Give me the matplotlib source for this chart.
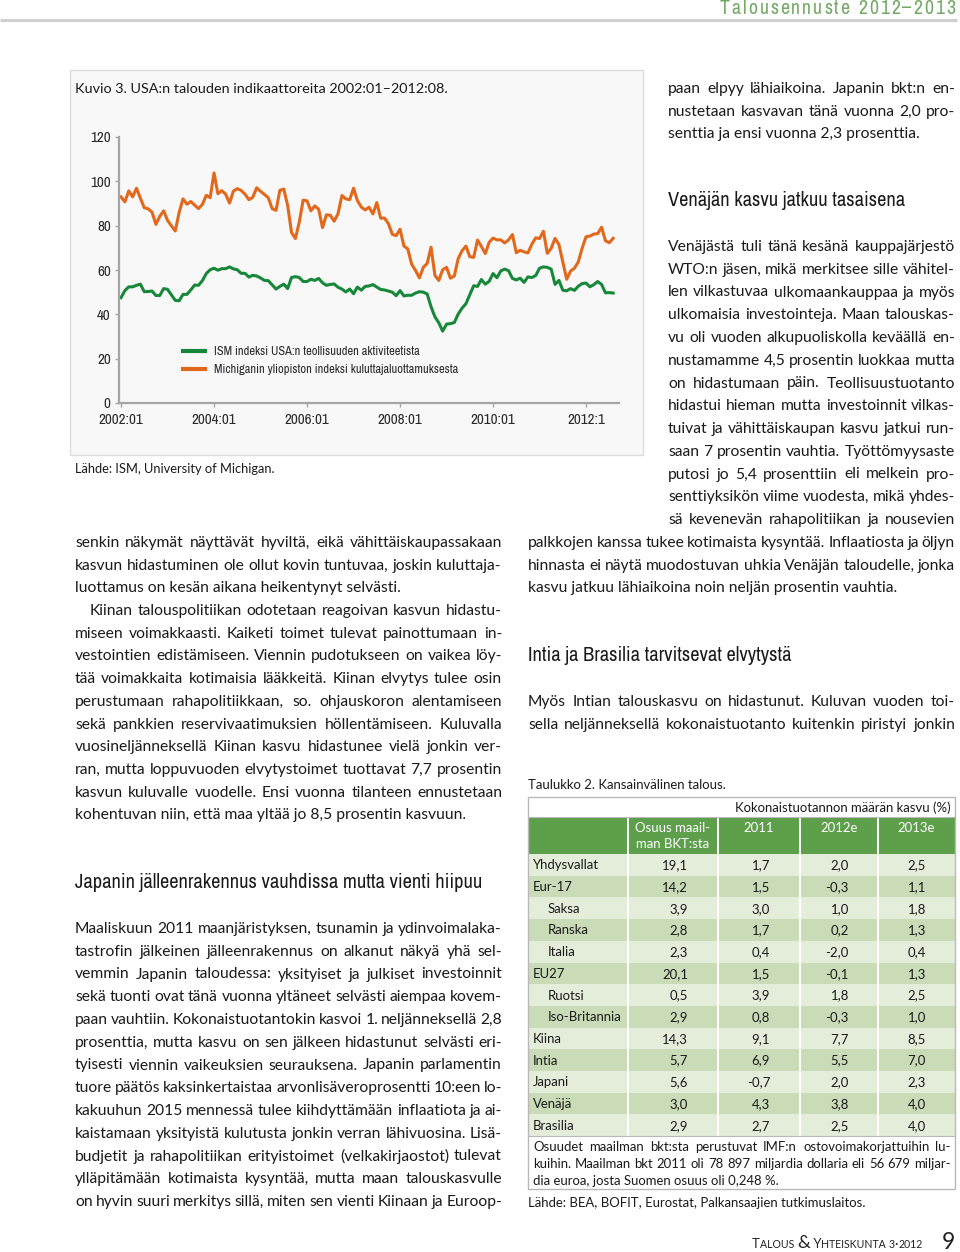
import matplotlib
matplotlib.use('Agg')
import matplotlib.pyplot as plt
from matplotlib.patches import Rectangle
from matplotlib import font_manager as fm
from matplotlib.font_manager import FontProperties
import numpy as np

# ---------------- data ----------------
# Monthly 2002:01 ... 2012:08 (128 months)
ism = [47.5, 50.7, 52.4, 52.4, 53.1, 53.6, 50.2, 50.3, 50.5, 48.5, 48.5, 51.6,
       51.3, 48.8, 46.3, 46.1, 49.0, 49.0, 51.0, 53.2, 53.1, 55.2, 58.4, 60.1,
       60.8, 59.9, 60.6, 60.6, 61.4, 60.5, 60.1, 58.5, 58.5, 56.8, 57.6, 57.3,
       56.4, 55.3, 55.2, 53.3, 51.4, 52.6, 53.6, 51.6, 56.6, 57.0, 56.6, 54.8,
       54.8, 55.8, 55.3, 56.2, 54.2, 53.1, 53.5, 53.7, 52.2, 51.4, 50.1, 51.4,
       49.3, 52.3, 50.9, 52.6, 52.8, 53.4, 52.3, 51.2, 51.0, 50.5, 50.0, 48.4,
       50.7, 48.3, 48.6, 48.6, 49.6, 50.2, 50.0, 49.2, 43.4, 38.9, 36.2, 32.4,
       35.6, 35.8, 36.3, 40.1, 42.8, 44.8, 48.9, 52.9, 52.6, 55.7, 53.6, 54.9,
       58.4, 56.5, 59.6, 60.4, 59.7, 56.2, 55.5, 56.3, 54.4, 56.9, 56.6, 57.5,
       60.8, 61.4, 61.2, 60.4, 53.5, 55.3, 50.9, 50.6, 51.6, 50.8, 52.7, 53.9,
       54.1, 52.4, 53.4, 54.8, 53.5, 49.7, 49.8, 49.6]
michigan = [93.0, 90.7, 95.7, 93.0, 96.9, 92.4, 88.1, 87.6, 86.1, 80.6, 84.2, 86.7,
            82.4, 79.9, 77.6, 86.0, 92.1, 89.7, 90.9, 89.3, 87.7, 89.6, 93.7, 92.6,
            103.8, 94.4, 95.8, 94.2, 90.2, 95.6, 96.7, 95.9, 94.2, 91.7, 92.8, 97.1,
            95.5, 94.1, 92.6, 87.7, 86.9, 96.0, 96.5, 89.1, 76.9, 74.2, 81.6, 91.5,
            91.2, 86.7, 88.9, 87.4, 79.1, 84.9, 84.7, 82.0, 85.4, 93.6, 92.1, 91.7,
            96.9, 91.3, 88.4, 87.1, 88.3, 85.3, 90.4, 83.4, 83.4, 80.9, 76.1, 75.5,
            78.4, 70.8, 69.5, 62.6, 59.8, 56.4, 61.2, 63.0, 70.3, 57.6, 55.3, 60.1,
            61.2, 56.3, 57.3, 65.1, 68.7, 70.8, 66.0, 65.7, 73.5, 70.6, 67.4, 72.5,
            74.4, 73.6, 73.6, 72.2, 73.6, 76.0, 67.8, 68.9, 68.2, 67.7, 71.6, 74.5,
            74.2, 77.5, 67.5, 69.8, 74.3, 71.5, 63.7, 55.8, 59.5, 60.8, 63.7, 69.9,
            75.0, 75.3, 76.2, 76.4, 79.3, 73.2, 72.3, 74.3]
x_tick_labels = ['2002:01', '2004:01', '2006:01', '2008:01', '2010:01', '2012:1']
y_ticks = [0, 20, 40, 60, 80, 100, 120]
series_labels = ['ISM indeksi USA:n teollisuuden aktiviteetista',
                 'Michiganin yliopiston indeksi kuluttajaluottamuksesta']

countries = ['Yhdysvallat', 'Eur-17', 'Saksa', 'Ranska', 'Italia', 'EU27', 'Ruotsi',
             'Iso-Britannia', 'Kiina', 'Intia', 'Japani', 'Venäjä', 'Brasilia']
sub_country = [False, False, True, True, True, False, True, True, False, False, False, False, False]
share = [19.1, 14.2, 3.9, 2.8, 2.3, 20.1, 0.5, 2.9, 14.3, 5.7, 5.6, 3.0, 2.9]
g2011 = [1.7, 1.5, 3.0, 1.7, 0.4, 1.5, 3.9, 0.8, 9.1, 6.9, -0.7, 4.3, 2.7]
g2012 = [2.0, -0.3, 1.0, 0.2, -2.0, -0.1, 1.8, -0.3, 7.7, 5.5, 2.0, 3.8, 2.5]
g2013 = [2.5, 1.1, 1.8, 1.3, 0.4, 1.3, 2.5, 1.0, 8.5, 7.0, 2.3, 4.0, 4.0]
table_cols = ['Osuus maail-\nman BKT:sta', '2011', '2012e', '2013e']

# ---------------- texts ----------------
p_left1 = ["senkin näkymät näyttävät hyviltä, eikä vähittäiskaupassakaan",
           "kasvun hidastuminen ole ollut kovin tuntuvaa, joskin kuluttaja-",
           "luottamus on kesän aikana heikentynyt selvästi."]
p_left2 = ["Kiinan talouspolitiikan odotetaan reagoivan kasvun hidastu-",
           "miseen voimakkaasti. Kaiketi toimet tulevat painottumaan in-",
           "vestointien edistämiseen. Viennin pudotukseen on vaikea löy-",
           "tää voimakkaita kotimaisia lääkkeitä. Kiinan elvytys tulee osin",
           "perustumaan rahapolitiikkaan, so. ohjauskoron alentamiseen",
           "sekä pankkien reservivaatimuksien höllentämiseen. Kuluvalla",
           "vuosineljänneksellä Kiinan kasvu hidastunee vielä jonkin ver-",
           "ran, mutta loppuvuoden elvytystoimet tuottavat 7,7 prosentin",
           "kasvun kuluvalle vuodelle. Ensi vuonna tilanteen ennustetaan",
           "kohentuvan niin, että maa yltää jo 8,5 prosentin kasvuun."]
p_japan = ["Maaliskuun 2011 maanjäristyksen, tsunamin ja ydinvoimalaka-",
           "tastrofin jälkeinen jälleenrakennus on alkanut näkyä yhä sel-",
           "vemmin Japanin taloudessa: yksityiset ja julkiset investoinnit",
           "sekä tuonti ovat tänä vuonna yltäneet selvästi aiempaa kovem-",
           "paan vauhtiin. Kokonaistuotantokin kasvoi 1. neljänneksellä 2,8",
           "prosenttia, mutta kasvu on sen jälkeen hidastunut selvästi eri-",
           "tyisesti viennin vaikeuksien seurauksena. Japanin parlamentin",
           "tuore päätös kaksinkertaistaa arvonlisäveroprosentti 10:een lo-",
           "kakuuhun 2015 mennessä tulee kiihdyttämään inflaatiota ja ai-",
           "kaistamaan yksityistä kulutusta jonkin verran lähivuosina. Lisä-",
           "budjetit ja rahapolitiikan erityistoimet (velkakirjaostot) tulevat",
           "ylläpitämään kotimaista kysyntää, mutta maan talouskasvulle",
           "on hyvin suuri merkitys sillä, miten sen vienti Kiinaan ja Euroop-"]
p_right0 = ["paan elpyy lähiaikoina. Japanin bkt:n en-",
            "nustetaan kasvavan tänä vuonna 2,0 pro-",
            "senttia ja ensi vuonna 2,3 prosenttia."]
p_russia_narrow = ["Venäjästä tuli tänä kesänä kauppajärjestö",
                   "WTO:n jäsen, mikä merkitsee sille vähitel-",
                   "len vilkastuvaa ulkomaankauppaa ja myös",
                   "ulkomaisia investointeja. Maan talouskas-",
                   "vu oli vuoden alkupuoliskolla keväällä en-",
                   "nustamamme 4,5 prosentin luokkaa mutta",
                   "on hidastumaan päin. Teollisuustuotanto",
                   "hidastui hieman mutta investoinnit vilkas-",
                   "tuivat ja vähittäiskaupan kasvu jatkui run-",
                   "saan 7 prosentin vauhtia. Työttömyysaste",
                   "putosi jo 5,4 prosenttiin eli melkein pro-",
                   "senttiyksikön viime vuodesta, mikä yhdes-",
                   "sä kevenevän rahapolitiikan ja nousevien"]
p_russia_wide = ["palkkojen kanssa tukee kotimaista kysyntää. Inflaatiosta ja öljyn",
                 "hinnasta ei näytä muodostuvan uhkia Venäjän taloudelle, jonka",
                 "kasvu jatkuu lähiaikoina noin neljän prosentin vauhtia."]
p_india = ["Myös Intian talouskasvu on hidastunut. Kuluvan vuoden toi-",
           "sella neljänneksellä kokonaistuotanto kuitenkin piristyi jonkin"]
p_note = ["Osuudet maailman bkt:sta perustuvat IMF:n ostovoimakorjattuihin lu-",
          "kuihin. Maailman bkt 2011 oli 78 897 miljardia dollaria eli 56 679 miljar-",
          "dia euroa, josta Suomen osuus oli 0,248 %."]
headings = {'venaja': 'Venäjän kasvu jatkuu tasaisena',
            'intia': 'Intia ja Brasilia tarvitsevat elvytystä',
            'japani': 'Japanin jälleenrakennus vauhdissa mutta vienti hiipuu'}

# ---------------- fonts ----------------
def find_narrow():
    prefs = []
    for f in fm.fontManager.ttflist:
        if f.style != 'normal':
            continue
        if f.weight not in (400, 'normal', 'regular', 'book', 'Regular'):
            continue
        fn = f.fname.lower()
        if 'narrow' in f.name.lower() or 'narrow' in fn:
            prefs.append((0, f.fname))
        elif 'condensed' in str(f.stretch) or 'condensed' in fn:
            if 'bold' in fn or 'oblique' in fn or 'italic' in fn:
                continue
            prefs.append((1, f.fname))
    prefs.sort()
    return prefs[0][1] if prefs else None

NARROW_PATH = find_narrow()
BODY = ['Lato', 'DejaVu Sans']

def FP(kind, size):
    if kind == 'narrow' and NARROW_PATH:
        return FontProperties(fname=NARROW_PATH, size=size)
    return FontProperties(family=BODY, size=size)

# ---------------- figure ----------------
W, H = 960, 1252
fig = plt.figure(figsize=(W / 100, H / 100), dpi=100)
bg = fig.add_axes([0, 0, 1, 1], zorder=0)
bg.set_xlim(0, W)
bg.set_ylim(H, 0)
bg.axis('off')
renderer = fig.canvas.get_renderer()
TXT = '#1a1a1a'

_cache = {}
def measure(s, kind, size):
    key = (s, kind, round(size, 4))
    if key not in _cache:
        t = bg.text(0, 0, s, fontproperties=FP(kind, size))
        _cache[key] = t.get_window_extent(renderer).width
        t.remove()
    return _cache[key]

def fit_size(s, kind, target, base=10.0):
    return base * target / measure(s, kind, base)

def T(x, y, s, kind, size, color=TXT, ha='left'):
    bg.text(x, y, s, fontproperties=FP(kind, size), color=color, va='baseline', ha=ha)

def draw_line(s, x0, x1, y, size, justify=True, kind='body', color=TXT):
    words = s.split(' ')
    if not justify or len(words) == 1:
        T(x0, y, s, kind, size, color)
        return
    sp = measure('a a', kind, size) - measure('aa', kind, size)
    ws = [measure(w, kind, size) for w in words]
    need = sum(ws) + 0.55 * sp * (len(words) - 1)
    if need > x1 - x0:
        size = size * (x1 - x0) / need
        ws = [measure(w, kind, size) for w in words]
    gap = (x1 - x0 - sum(ws)) / (len(words) - 1)
    x = x0
    for w, wd in zip(words, ws):
        T(x, y, w, kind, size, color)
        x += wd + gap

def paragraph(lines, x0, x1, y0, size, pitch=22.72, last_justified=False, indent=0):
    for i, ln in enumerate(lines):
        just = (i < len(lines) - 1) or last_justified
        xs = x0 + (indent if i == 0 else 0)
        draw_line(ln, xs, x1, y0 + i * pitch + 5, size, just)

# body size matched to an unjustified reference line (391 px wide)
BS = fit_size(p_left2[-1], 'body', 391)
TS = fit_size('Lähde: BEA, BOFIT, Eurostat, Palkansaajien tutkimuslaitos.', 'body', 335)
HS = fit_size(headings['japani'], 'narrow', 408)

# ---- header ----
def tracked(s, x_right, y, size, color, kind, total):
    ws = [measure(c, kind, size) for c in s]
    track = (total - sum(ws)) / (len(s) - 1)
    x = x_right - total
    for c, wd in zip(s, ws):
        T(x, y, c, kind, size, color)
        x += wd + track

hdr_size = fit_size('Talousennuste 2012–2013', 'narrow', 192)
tracked('Talousennuste 2012–2013', 955, 13.5, hdr_size, '#74a865', 'narrow', 235)
bg.plot([0, 957], [20, 20], color='#cfcfcf', lw=2.2, solid_capstyle='butt')

# ---- chart box ----
bg.add_patch(Rectangle((70, 70), 573, 385, facecolor='#f8f8f8', edgecolor='#dcdcdc', lw=1))
T(75, 93, 'Kuvio 3. USA:n talouden indikaattoreita 2002:01–2012:08.', 'body',
  fit_size('Kuvio 3. USA:n talouden indikaattoreita 2002:01–2012:08.', 'body', 373))
T(75, 473, 'Lähde: ISM, University of Michigan.', 'body',
  fit_size('Lähde: ISM, University of Michigan.', 'body', 201))

ax = fig.add_axes([119 / W, 1 - 403 / H, 500 / W, 266 / H], zorder=1)
ax.patch.set_alpha(0)
months = np.arange(len(ism))
ax.plot(months, ism, color='#17883a', lw=2.2, label=series_labels[0], solid_joinstyle='round')
ax.plot(months, michigan, color='#e2691c', lw=2.2, label=series_labels[1], solid_joinstyle='round')
ax.set_xlim(-0.52, 128.5)
ax.set_ylim(0, 120)
ax.set_xticks([0, 24, 48, 72, 96, 120])
ax.set_xticklabels(x_tick_labels)
ax.set_yticks(y_ticks)
for s in ['top', 'right']:
    ax.spines[s].set_visible(False)
for s in ['left', 'bottom']:
    ax.spines[s].set_color('#a5a5a5')
    ax.spines[s].set_linewidth(1.6)
ax.tick_params(axis='both', direction='out', length=3, width=1, color='#a5a5a5',
               labelcolor='#2a2a2a')
ax.tick_params(axis='y', pad=3)
ax.tick_params(axis='x', pad=4.5)
tick_size = fit_size('2002:01', 'narrow', 41) * 1.08
for lab in ax.get_xticklabels() + ax.get_yticklabels():
    lab.set_fontproperties(FP('narrow', tick_size))
leg_size = fit_size(series_labels[0], 'narrow', 196) * 1.05
leg = ax.legend(loc='center left', bbox_to_anchor=(183 / W, 1 - 360.5 / H),
                bbox_transform=fig.transFigure, frameon=False,
                prop=FP('narrow', leg_size),
                handlelength=22 / (leg_size * 100 / 72), handletextpad=9 / (leg_size * 100 / 72),
                labelspacing=0.55, borderpad=0, borderaxespad=0)
for t in leg.get_texts():
    t.set_color('#2a2a2a')
for l in leg.get_lines():
    l.set_linewidth(3)

# ---- left column text ----
paragraph(p_left1, 75, 502, 542, BS)
paragraph(p_left2, 75, 502, 610, BS, indent=15)
T(75, 888, headings['japani'], 'narrow', HS)
paragraph(p_japan, 75, 502, 928, BS, pitch=22.75, last_justified=True)

# ---- right column text ----
paragraph(p_right0, 668, 955, 88, BS)
T(668, 206, headings['venaja'], 'narrow', HS)
paragraph(p_russia_narrow, 668, 955, 246, BS, pitch=22.75, last_justified=True)
paragraph(p_russia_wide, 528, 955, 542, BS)
T(528, 661, headings['intia'], 'narrow', HS)
paragraph(p_india, 528, 955, 701, BS, last_justified=True)

# ---- table ----
T(528, 789, 'Taulukko 2. Kansainvälinen talous.', 'body', TS)
tx0, tx1 = 528, 955
top, hdr0, hdr1 = 797, 817, 854
rowh = 21.7
nrows = len(countries)
rows_end = hdr1 + nrows * rowh
tbot = 1189
seps = [628, 718, 800, 878]
bg.add_patch(Rectangle((tx0, hdr0), tx1 - tx0, hdr1 - hdr0, facecolor='#5e9f4c', edgecolor='none'))
for i in range(nrows):
    c = '#e4ecda' if i % 2 == 0 else '#c9dbb7'
    bg.add_patch(Rectangle((tx0, hdr1 + i * rowh), tx1 - tx0, rowh, facecolor=c, edgecolor='none'))
for sx in seps:
    bg.plot([sx, sx], [hdr0, rows_end], color='white', lw=1.4)
bg.add_patch(Rectangle((tx0, top), tx1 - tx0, tbot - top, facecolor='none', edgecolor='#b9b9b9', lw=1))
bg.plot([tx0, tx1], [hdr0, hdr0], color='#b9b9b9', lw=0.8)
bg.plot([tx0, tx1], [rows_end, rows_end], color='#b9b9b9', lw=0.8)
T(951, 811.5, 'Kokonaistuotannon määrän kasvu (%)', 'body', TS, ha='right')
col_centers = [(seps[0] + seps[1]) / 2, (seps[1] + seps[2]) / 2,
               (seps[2] + seps[3]) / 2, (seps[3] + tx1) / 2]
hdr_lines = table_cols[0].split('\n')
T(col_centers[0], 832.5, hdr_lines[0], 'body', TS, color='white', ha='center')
T(col_centers[0], 847.5, hdr_lines[1], 'body', TS, color='white', ha='center')
for k in range(1, 4):
    T(col_centers[k], 832.5, table_cols[k], 'body', TS, color='white', ha='center')
right_edges = [688, 770, 849, 926]
def fmt(v):
    return f'{v:.1f}'.replace('.', ',')
for i in range(nrows):
    yb = hdr1 + i * rowh + rowh / 2 + 4.5
    T(548 if sub_country[i] else 533, yb, countries[i], 'body', TS)
    for k, col in enumerate([share, g2011, g2012, g2013]):
        T(right_edges[k], yb, fmt(col[i]), 'body', TS, ha='right')
for i, ln in enumerate(p_note):
    draw_line(ln, 533, 951, 1151 + i * 17, TS, justify=(i < 2))
T(528, 1207, 'Lähde: BEA, BOFIT, Eurostat, Palkansaajien tutkimuslaitos.', 'body', TS)

# ---- footer ----
def seq(parts, x, y, total):
    nat = sum(measure(s, 'body', sz) for s, sz in parts)
    f = total / nat
    for s, sz in parts:
        T(x, y, s, 'body', sz * f, color='#222222')
        x += measure(s, 'body', sz * f)
seq([('T', 8.0), ('ALOUS ', 6.4), ('&', 11), (' Y', 8.0), ('HTEISKUNTA ', 6.4), ('3', 6.4),
     ('·', 8.0), ('2012', 6.4)], 752, 1248, 170)
T(955, 1249, '9', 'body', 16.5, color='#222222', ha='right')

fig.savefig('out.png', dpi=100)
